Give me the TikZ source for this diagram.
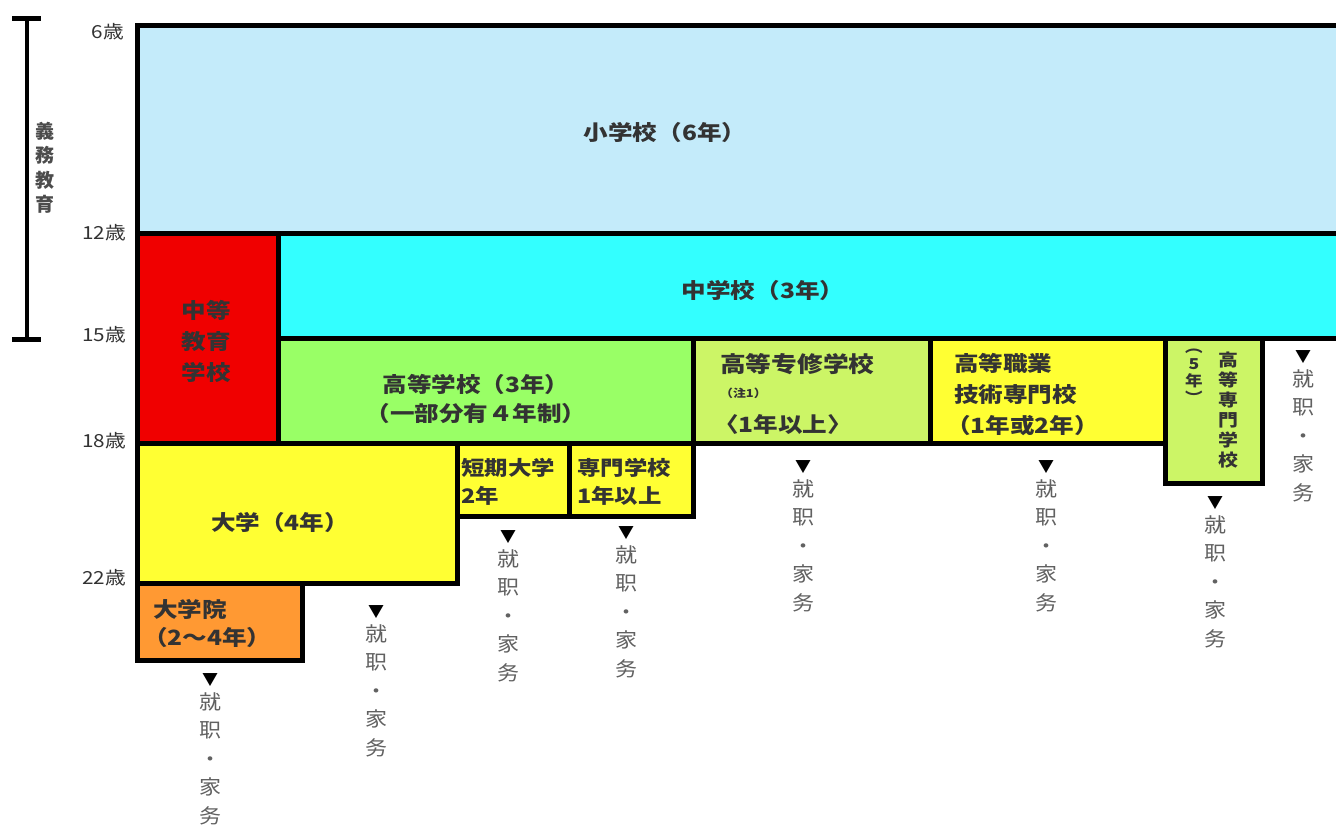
\documentclass[tikz,border=0pt]{standalone}
\usepackage{fontspec}
\setmainfont{Noto Sans CJK JP}
\definecolor{lblue}{HTML}{C4EBFA}
\definecolor{cyanb}{HTML}{33FFFF}
\definecolor{redb}{HTML}{F00000}
\definecolor{greenb}{HTML}{99FF66}
\definecolor{lgreen}{HTML}{CCF566}
\definecolor{yellowb}{HTML}{FFFF33}
\definecolor{orangeb}{HTML}{FF9933}
\definecolor{txtgray}{HTML}{333333}
\tikzset{
  boxrect/.style={draw=black, line width=5pt},
  boxtxt/.style={font=\fontsize{21}{31}\selectfont\bfseries, text=txtgray, inner sep=0pt, xscale=1.17},
  lefttxt/.style={boxtxt, anchor=west, align=left},
  agetxt/.style={font=\fontsize{18}{20}\selectfont, text=txtgray, anchor=east, inner sep=0pt, xscale=1.15},
  outtxt/.style={font=\fontsize{20}{28.5}\selectfont, text=black!62, align=center, anchor=north, inner sep=0pt, xscale=1.1},
  tri/.style={font=\fontsize{16}{18}\selectfont, inner sep=0pt}
}
\begin{document}
\begin{tikzpicture}[x=1pt,y=-1pt]
\useasboundingbox (0,0) rectangle (1336,825);
\fill[white] (0,0) rectangle (1336,825);
\begin{scope}
\clip (0,0) rectangle (1336,825);
% boxes
\filldraw[boxrect, fill=lblue] (137,25) rectangle (1350,233);
\filldraw[boxrect, fill=redb] (137,233) rectangle (278,443);
\filldraw[boxrect, fill=cyanb] (278,233) rectangle (1350,338);
\filldraw[boxrect, fill=greenb] (278,338) rectangle (693,443);
\filldraw[boxrect, fill=lgreen] (693,338) rectangle (930,443);
\filldraw[boxrect, fill=yellowb] (930,338) rectangle (1165,443);
\filldraw[boxrect, fill=lgreen] (1165,338) rectangle (1262,483);
\filldraw[boxrect, fill=yellowb] (137,443) rectangle (457,583);
\filldraw[boxrect, fill=yellowb] (457,443) rectangle (569,516);
\filldraw[boxrect, fill=yellowb] (569,443) rectangle (693,516);
\filldraw[boxrect, fill=orangeb] (137,583) rectangle (302,660);
\end{scope}
% compulsory education bar
\coordinate (bt) at (27,18);
\coordinate (bb) at (27,339);
\draw[line width=4.5pt] (bt) -- (bb);
\draw[line width=5pt] ([xshift=-15pt]bt) -- ([xshift=14pt]bt);
\draw[line width=5pt] ([xshift=-15pt]bb) -- ([xshift=14pt]bb);
\node[inner sep=0pt, text=black!70, font=\fontsize{19}{24.5}\selectfont\bfseries, align=center] (gimu) at (45,168) {義\\務\\教\\育};
% ages
\node[agetxt] (a6) at (124,32) {6歳};
\node[agetxt] (a12) at (126,233) {12歳};
\node[agetxt] (a15) at (126,335) {15歳};
\node[agetxt] (a18) at (126,441) {18歳};
\node[agetxt] (a22) at (126,578) {22歳};
% box texts
\node[boxtxt] (shou) at (665,133) {小学校（6年）};
\node[boxtxt, align=center] (chuto) at (206,341) {中等\\教育\\学校};
\node[boxtxt] (chu) at (763,291) {中学校（3年）};
\node[boxtxt, align=center, font=\fontsize{21}{29}\selectfont\bfseries] (kou) at (476,399) {高等学校（3年）\\（一部分有４年制）};
\node[lefttxt, font=\fontsize{22}{24}\selectfont\bfseries] (sen1) at (720,364) {高等专修学校};
\node[lefttxt, font=\fontsize{11}{12}\selectfont\bfseries] (sen2) at (720,393) {（注1）};
\node[lefttxt] (sen3) at (714,424) {〈1年以上〉};
\node[lefttxt, align=left, font=\fontsize{21}{31}\selectfont\bfseries] (shok) at (954,379) {高等職業\\技術専門校};
\node[lefttxt] (shok2) at (946,426) {（1年或2年）};
\node[boxtxt, xscale=1, align=center, font=\fontsize{17}{20}\selectfont\bfseries] (kosen) at (1228,410) {高\\等\\専\\門\\学\\校};
\node[boxtxt, xscale=1, align=center, font=\fontsize{15}{17}\selectfont\bfseries] (kosen2) at (1194,376) {︵\\5\\年\\︶};
\node[boxtxt] (dai) at (280,523) {大学（4年）};
\node[lefttxt, font=\fontsize{20}{24}\selectfont\bfseries] (tan1) at (461,468) {短期大学};
\node[lefttxt, font=\fontsize{20}{24}\selectfont\bfseries] (tan2) at (461,496) {2年};
\node[lefttxt, font=\fontsize{20}{24}\selectfont\bfseries] (sem1) at (577,468) {専門学校};
\node[lefttxt, font=\fontsize{20}{24}\selectfont\bfseries] (sem2) at (577,496) {1年以上};
\node[lefttxt] (in1) at (153,609) {大学院};
\node[lefttxt] (in2) at (143,638) {（2～4年）};
% exits
\foreach \n/\x/\y in {o1/210/680, o2/376/612, o3/508/537, o4/626/533, o5/803/467, o6/1046/467, o7/1215/503, o8/1303/357}{
  \node[tri] (\n t) at (\x,\y) {▼};
  \node[outtxt] (\n) at (\x,\y+12) {就\\职\\・\\家\\务};
}
\end{tikzpicture}
\end{document}
